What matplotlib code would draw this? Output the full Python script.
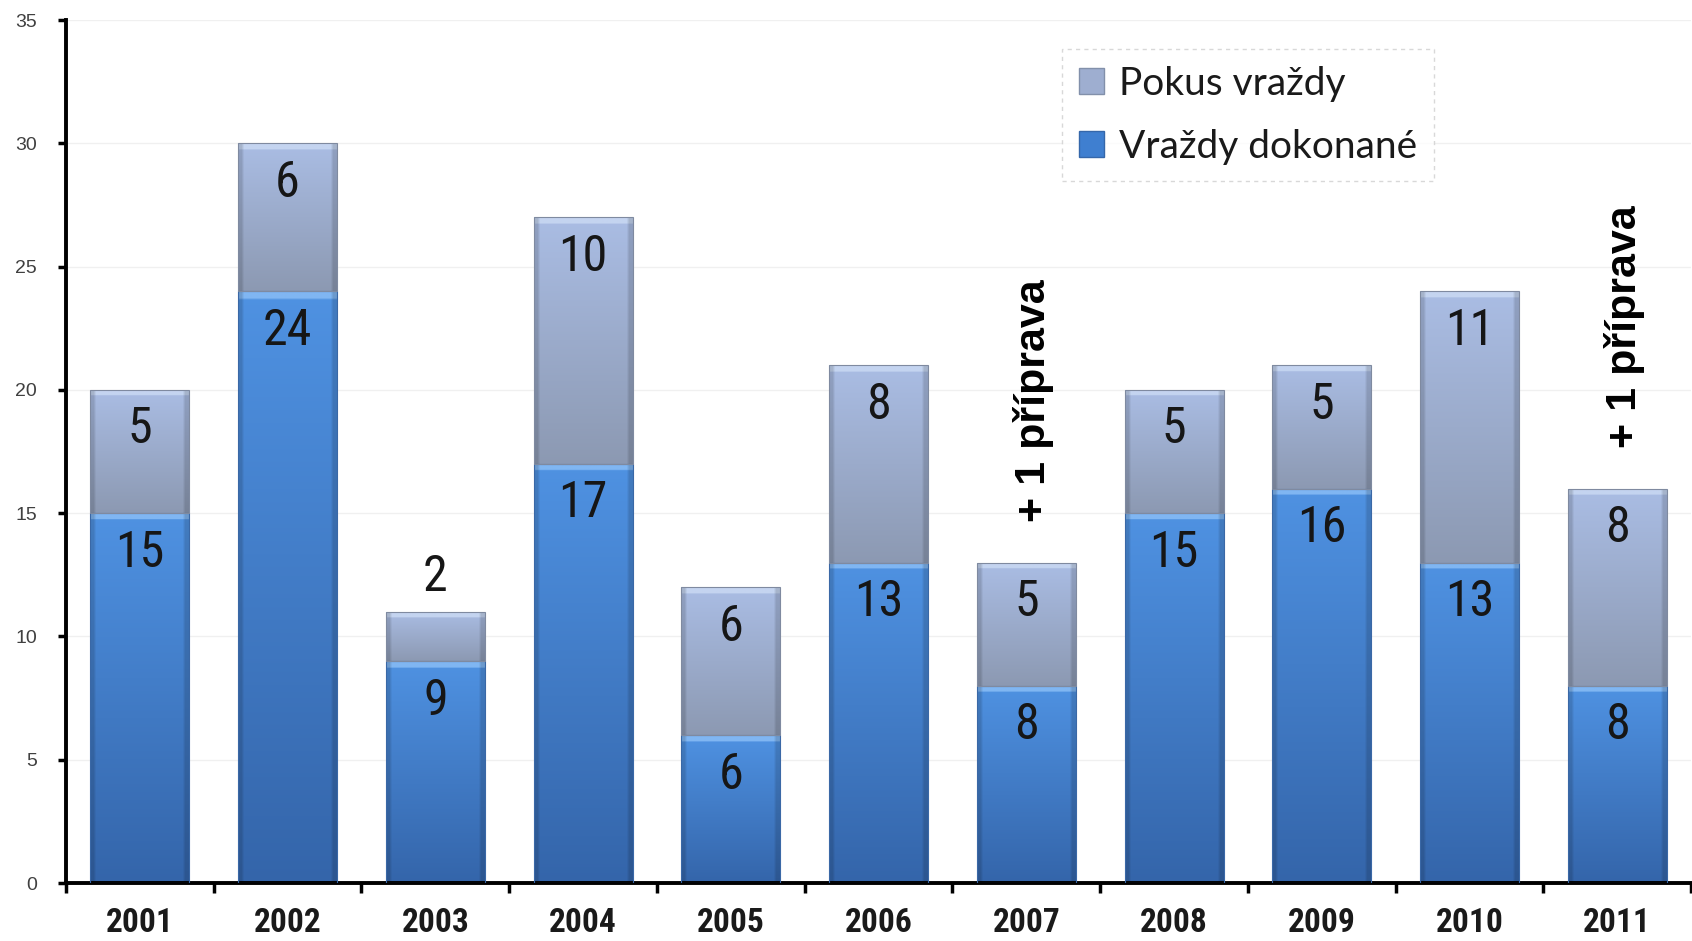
import numpy as np
import matplotlib
matplotlib.use("Agg")
import matplotlib.pyplot as plt
from matplotlib import font_manager
from matplotlib.patches import Patch
from matplotlib.colors import to_rgb

years = ["2001", "2002", "2003", "2004", "2005", "2006", "2007", "2008", "2009", "2010", "2011"]
dokonane = [15, 24, 9, 17, 6, 13, 8, 15, 16, 13, 8]
pokus = [5, 6, 2, 10, 6, 8, 5, 5, 5, 11, 8]
note_years = ["2007", "2011"]
note_text = "+ 1 příprava"
label_dokonane = "Vraždy dokonané"
label_pokus = "Pokus vraždy"

# choose a narrow font if one is installed
entries = font_manager.fontManager.ttflist
names = {f.name for f in entries}
narrow_family = "Liberation Sans"
narrow_stretch = "normal"
for cand in ["Liberation Sans Narrow", "Arial Narrow", "Roboto Condensed", "Open Sans Condensed"]:
    if cand in names:
        narrow_family = cand
        break
else:
    for f in entries:
        if f.name == "DejaVu Sans" and str(f.stretch).lower() in ("condensed", "semi-condensed", "semicondensed"):
            narrow_family = "DejaVu Sans"
            narrow_stretch = "condensed"
            break

fig = plt.figure(figsize=(16.92, 9.41), dpi=100)
ax = fig.add_axes([0.039, 0.0616, 0.9605, 0.917])

x = np.arange(len(years))
width = 0.67

blue_top, blue_bot = to_rgb("#4f92e2"), to_rgb("#3465aa")
grey_top, grey_bot = to_rgb("#aabde4"), to_rgb("#8c99b2")
blue_hl = to_rgb("#80b6f2")
grey_hl = to_rgb("#c4d4f0")

b1 = ax.bar(x, dokonane, width, color="#4180cc", edgecolor="#3a68a6", linewidth=0.8, zorder=2)
b2 = ax.bar(x, pokus, width, bottom=dokonane, color="#9aabcc", edgecolor="#7f8aa0", linewidth=0.8, zorder=2)


def grad_fill(bars, ctop, cbot, chl):
    for p in bars:
        x0, y0 = p.get_x(), p.get_y()
        w, h = p.get_width(), p.get_height()
        n = 300
        t = np.linspace(0, 1, n)[:, None]
        img = np.zeros((n, 2, 3))
        for k in range(3):
            img[:, :, k] = ctop[k] + (cbot[k] - ctop[k]) * t
        band = min(0.25 / h, 0.3)
        m = (t[:, 0] < band)
        for k in range(3):
            img[m, :, k] = chl[k]
        img2 = np.repeat(img, 20, axis=1)
        edge = np.ones(40)
        edge[:2] = 0.85
        edge[-2:] = 0.85
        img2 = img2 * edge[None, :, None]
        im = ax.imshow(img2, extent=(x0, x0 + w, y0, y0 + h), aspect="auto",
                       zorder=2.5, interpolation="bilinear", origin="upper")
        im.set_clip_path(p)


grad_fill(b1, blue_top, blue_bot, blue_hl)
grad_fill(b2, grey_top, grey_bot, grey_hl)
for p in list(b1) + list(b2):
    p.set_zorder(3)
    p.set_facecolor("none")

lab_font = dict(family=[narrow_family, "DejaVu Sans"], fontstretch=narrow_stretch, fontsize=36,
                color="#161616", ha="center", va="center", zorder=5)
for i in range(len(years)):
    ax.text(x[i], dokonane[i] - 1.6, str(dokonane[i]), **lab_font)
    top = dokonane[i] + pokus[i]
    if pokus[i] >= 3:
        ax.text(x[i], top - 1.6, str(pokus[i]), **lab_font)
    else:
        ax.text(x[i], top + 1.4, str(pokus[i]), **lab_font)

for yr in note_years:
    i = years.index(yr)
    top = dokonane[i] + pokus[i]
    ax.text(x[i] + 0.05, top + 1.65, note_text, rotation=90, ha="center", va="bottom",
            family=["Liberation Sans", "DejaVu Sans"], fontweight="bold", fontsize=31, color="black", zorder=5)

ax.set_xlim(-0.5, len(years) - 0.5)
ax.set_ylim(0, 35)
ax.set_yticks(np.arange(0, 36, 5))
ax.yaxis.grid(True, color="#f0f0f0", linewidth=1.0, zorder=0)
ax.set_axisbelow(True)

ax.set_xticks(x)
ax.set_xticklabels(years, family=[narrow_family, "DejaVu Sans"], fontstretch=narrow_stretch,
                   fontweight="bold", fontsize=24, color="#1a1a1a")
ax.set_xticks(np.arange(-0.5, len(years), 1.0), minor=True)
ax.tick_params(axis="x", which="major", length=0, pad=17)
ax.tick_params(axis="x", which="minor", length=7, width=2.5, direction="out", color="black")
ax.tick_params(axis="y", length=6, width=2.5, direction="out", color="black", pad=15,
               labelsize=14, labelcolor="#404040")
for lbl in ax.get_yticklabels():
    lbl.set_family(["Liberation Sans", "DejaVu Sans"])

for s in ["top", "right"]:
    ax.spines[s].set_visible(False)
for s in ["left", "bottom"]:
    ax.spines[s].set_linewidth(2.8)
    ax.spines[s].set_color("black")

handles = [Patch(facecolor="#9eaed0", edgecolor="#8290aa", label=label_pokus),
           Patch(facecolor="#3f7fd0", edgecolor="#3567aa", label=label_dokonane)]
leg = ax.legend(handles=handles, loc="upper left", bbox_to_anchor=(0.613, 0.966),
                prop={"family": ["Lato", "DejaVu Sans"], "size": 28},
                frameon=True, fancybox=False, handlelength=0.65, handleheight=0.65,
                handletextpad=0.4, labelspacing=0.7, borderpad=0.42, borderaxespad=0)
fr = leg.get_frame()
fr.set_edgecolor("#cfcfcf")
fr.set_linestyle((0, (3, 3)))
fr.set_linewidth(1.0)
for t in leg.get_texts():
    t.set_color("#1a1a1a")

fig.savefig("out.png", dpi=100, facecolor="white")
